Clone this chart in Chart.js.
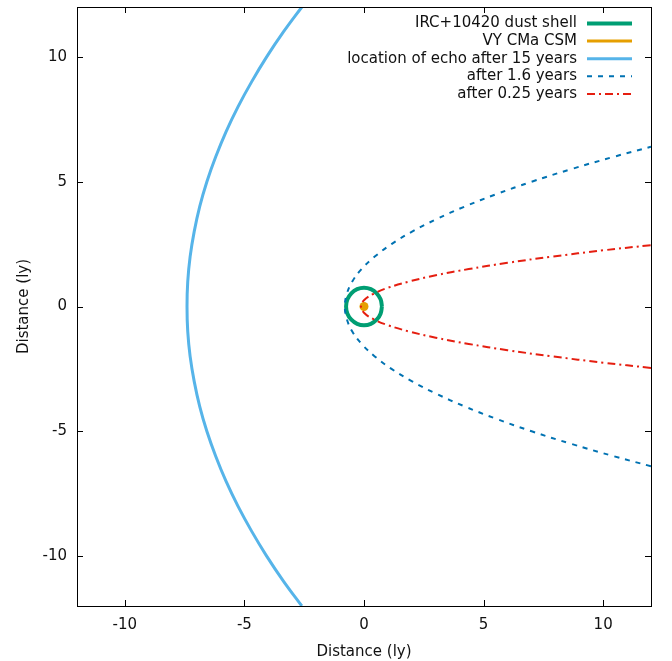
<!DOCTYPE html>
<html>
<head>
<meta charset="utf-8">
<script src="https://cdn.jsdelivr.net/npm/chart.js@4"></script>
<style>
  html, body { margin: 0; padding: 0; background: #fff; }
  #wrap { width: 672px; height: 661px; }
</style>
</head>
<body>
<div id="wrap"><canvas id="echoChart" width="672" height="661"></canvas></div>
<script>
// values (ly)
const tickValues = [-10, -5, 0, 5, 10];
const seriesNames = ['IRC+10420 dust shell', 'VY CMa CSM', 'location of echo after 15 years', 'after 1.6 years', 'after 0.25 years'];

const shellX = [0.75, 0.693, 0.53, 0.287, 0, -0.287, -0.53, -0.693, -0.75, -0.693, -0.53, -0.287, 0, 0.287, 0.53, 0.693, 0.75];
const shellY = [0, 0.287, 0.53, 0.693, 0.75, 0.693, 0.53, 0.287, 0, -0.287, -0.53, -0.693, -0.75, -0.693, -0.53, -0.287, 0];

const csmX = [0];
const csmY = [0];

const echo15X = [-2.6, -3.37, -4.07, -4.7, -5.27, -5.77, -6.2, -6.57, -6.87, -7.1, -7.27, -7.37, -7.4, -7.37, -7.27, -7.1, -6.87, -6.57, -6.2, -5.77, -5.27, -4.7, -4.07, -3.37, -2.6];
const echo15Y = [-12, -11, -10, -9, -8, -7, -6, -5, -4, -3, -2, -1, 0, 1, 2, 3, 4, 5, 6, 7, 8, 9, 10, 11, 12];

const echo16X = [12.0, 10.45, 8.65, 7.01, 5.53, 4.2, 3.03, 2.01, 1.15, 0.45, -0.1, -0.49, -0.72, -0.8, -0.72, -0.49, -0.1, 0.45, 1.15, 2.01, 3.03, 4.2, 5.53, 7.01, 8.65, 10.45, 12.0];
const echo16Y = [-6.4, -6, -5.5, -5, -4.5, -4, -3.5, -3, -2.5, -2, -1.5, -1, -0.5, 0, 0.5, 1, 1.5, 2, 2.5, 3, 3.5, 4, 4.5, 5, 5.5, 6, 6.4];

const echo025X = [12.0, 10.0, 7.88, 6.0, 4.38, 3.0, 1.88, 1.0, 0.38, 0.0, -0.125, 0.0, 0.38, 1.0, 1.88, 3.0, 4.38, 6.0, 7.88, 10.0, 12.0];
const echo025Y = [-2.46, -2.25, -2, -1.75, -1.5, -1.25, -1, -0.75, -0.5, -0.25, 0, 0.25, 0.5, 0.75, 1, 1.25, 1.5, 1.75, 2, 2.25, 2.46];

function pairs(xs, ys) {
  return xs.map((x, i) => ({ x: x, y: ys[i] }));
}

const FONT = 'DejaVu Sans';
const FSIZE = 15;

// gnuplot style frame with inward ticks on all four sides
const framePlugin = {
  id: 'frame',
  afterDatasetsDraw(chart) {
    const ctx = chart.ctx;
    const a = chart.chartArea;
    const xs = chart.scales.x, ys = chart.scales.y;
    ctx.save();
    ctx.strokeStyle = '#000';
    ctx.lineWidth = 1;
    ctx.beginPath();
    tickValues.forEach(v => {
      const px = Math.round(xs.getPixelForValue(v)) + 0.5;
      ctx.moveTo(px, a.bottom); ctx.lineTo(px, a.bottom - 6);
      ctx.moveTo(px, a.top); ctx.lineTo(px, a.top + 6);
      const py = Math.round(ys.getPixelForValue(v)) + 0.5;
      ctx.moveTo(a.left, py); ctx.lineTo(a.left + 6, py);
      ctx.moveTo(a.right, py); ctx.lineTo(a.right - 6, py);
    });
    ctx.stroke();
    ctx.strokeRect(Math.round(a.left) + 0.5, Math.round(a.top) + 0.5, Math.round(a.right - a.left), Math.round(a.bottom - a.top));
    ctx.restore();
  }
};

// legend like gnuplot: text right aligned, sample line to the right
const keyPlugin = {
  id: 'key',
  afterDraw(chart) {
    const ctx = chart.ctx;
    ctx.save();
    ctx.font = FSIZE + 'px "' + FONT + '"';
    ctx.textAlign = 'right';
    ctx.textBaseline = 'middle';
    chart.data.datasets.forEach((ds, i) => {
      const y = 23.5 + i * 17.6;
      ctx.fillStyle = '#111';
      ctx.fillText(ds.label, 577, y);
      ctx.strokeStyle = ds.borderColor;
      ctx.lineWidth = ds.borderWidth;
      ctx.setLineDash(ds.borderDash || []);
      ctx.beginPath();
      ctx.moveTo(587, y);
      ctx.lineTo(632, y);
      ctx.stroke();
    });
    ctx.restore();
  }
};

const chart = new Chart(document.getElementById('echoChart'), {
  type: 'scatter',
  data: {
    datasets: [
      {
        label: seriesNames[0],
        data: pairs(shellX, shellY),
        showLine: true, tension: 0.4,
        borderColor: '#009e73', borderWidth: 4,
        pointRadius: 0, order: 0
      },
      {
        label: seriesNames[1],
        data: pairs(csmX, csmY),
        showLine: false,
        borderColor: '#e69f00', borderWidth: 3,
        backgroundColor: '#e69f00',
        pointRadius: 4.5, pointBorderWidth: 0, order: -1
      },
      {
        label: seriesNames[2],
        data: pairs(echo15X, echo15Y),
        showLine: true, tension: 0.4,
        borderColor: '#56b4e9', borderWidth: 3,
        pointRadius: 0, order: -2
      },
      {
        label: seriesNames[3],
        data: pairs(echo16X, echo16Y),
        showLine: true, tension: 0.4,
        borderColor: '#0072b2', borderWidth: 2,
        borderDash: [5, 6],
        pointRadius: 0, order: -3
      },
      {
        label: seriesNames[4],
        data: pairs(echo025X, echo025Y),
        showLine: true, tension: 0.4,
        borderColor: '#e51e10', borderWidth: 2,
        borderDash: [8, 4, 2, 4],
        pointRadius: 0, order: -4
      }
    ]
  },
  options: {
    responsive: false,
    animation: false,
    clip: 0,
    layout: { padding: { top: 7, right: 21, left: 0, bottom: 0 } },
    plugins: {
      legend: { display: false },
      tooltip: { enabled: false }
    },
    scales: {
      x: {
        type: 'linear', min: -12, max: 12,
        grid: { display: false, drawTicks: false },
        border: { display: false },
        afterBuildTicks: s => { s.ticks = tickValues.map(v => ({ value: v })); },
        afterFit: s => { s.height = 55; s.paddingLeft = 0; s.paddingRight = 0; },
        ticks: { color: '#111', font: { family: FONT, size: FSIZE }, padding: 10 },
        title: { display: true, text: 'Distance (ly)', color: '#111', font: { family: FONT, size: FSIZE }, padding: { top: 7, bottom: 0 } }
      },
      y: {
        type: 'linear', min: -12, max: 12,
        grid: { display: false, drawTicks: false },
        border: { display: false },
        afterBuildTicks: s => { s.ticks = tickValues.map(v => ({ value: v })); },
        afterFit: s => { s.width = 77; s.paddingTop = 0; s.paddingBottom = 0; },
        ticks: { color: '#111', font: { family: FONT, size: FSIZE }, padding: 10 },
        title: { display: true, text: 'Distance (ly)', color: '#111', font: { family: FONT, size: FSIZE }, padding: { top: 15, bottom: 0 } }
      }
    }
  },
  plugins: [framePlugin, keyPlugin]
});
</script>
</body>
</html>
